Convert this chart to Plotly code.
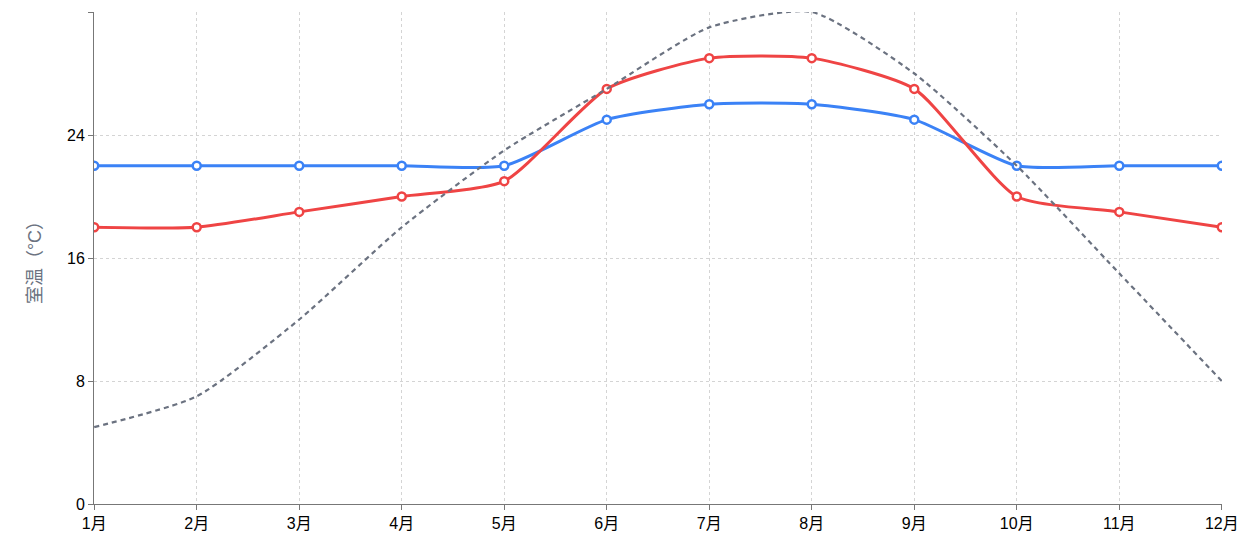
import plotly.graph_objects as go

MONTHS = ["1月", "2月", "3月", "4月", "5月", "6月", "7月", "8月", "9月", "10月", "11月", "12月"]
BLUE = [22, 22, 22, 22, 22, 25, 26, 26, 25, 22, 22, 22]
RED = [18, 18, 19, 20, 21, 27, 29, 29, 27, 20, 19, 18]
GRAY = [5, 7, 12, 18, 23, 27, 31, 32, 28, 22, 15, 8]

fig = go.Figure()
for ys, col in [(BLUE, "#3b82f6"), (RED, "#ef4444")]:
    fig.add_trace(go.Scatter(x=MONTHS, y=ys, mode="lines+markers", line=dict(color=col, width=3, shape="spline", smoothing=0.6),
                             marker=dict(size=8, color="white", line=dict(color=col, width=2.5)), showlegend=False))
fig.add_trace(go.Scatter(x=MONTHS, y=GRAY, mode="lines", line=dict(color="#6b7280", width=2.2, dash="5px,4px", shape="spline", smoothing=0.6),
                         showlegend=False))

grid = dict(showgrid=True, gridcolor="#d4d4d4", griddash="3px,3px", gridwidth=1, showline=True, linecolor="#777",
            ticks="outside", ticklen=5, tickcolor="#777", tickfont=dict(size=16, color="black"), zeroline=False)
fig.update_xaxes(**grid, range=[-0.002, 11.002])
fig.update_yaxes(**grid, range=[0, 32], tickvals=[0, 8, 16, 24, 32],
                 title=dict(text="室温（°C）", font=dict(size=18, color="#6b7280"), standoff=20))
fig.update_layout(width=1249, height=548, margin=dict(l=86, r=35, t=4, b=52), plot_bgcolor="white", paper_bgcolor="white",
                  font=dict(family="Liberation Sans, Noto Sans CJK JP, sans-serif"))
fig.write_html("out.html")
